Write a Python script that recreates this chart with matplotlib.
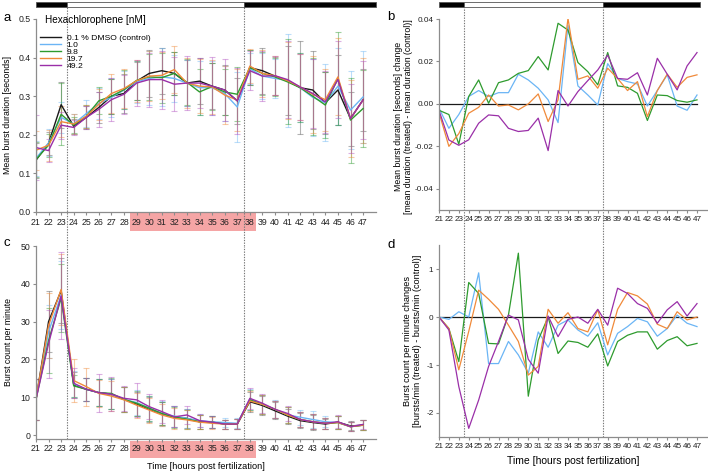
import matplotlib
matplotlib.use("Agg")
import matplotlib.pyplot as plt
import matplotlib.transforms as mtransforms
from matplotlib.patches import Rectangle

plt.rcParams['font.family'] = ['Liberation Sans Narrow', 'Liberation Sans', 'DejaVu Sans']
plt.rcParams['axes.unicode_minus'] = False

# x axis: hours post fertilization
hours = list(range(21, 48))
groups = ['0.1 % DMSO (control)', '1.0', '9.8', '19.7', '49.2']
colors = ['#1a1a1a', '#6bb5f5', '#2e9b2e', '#f08a3a', '#9a2fa8']
err_colors = ['#555555', '#6bb5f5', '#2e9b2e', '#f08a3a', '#b050c0']

# light cycle bar (dark / light / dark) and the dashed transitions
light_edges = [21, 23.5, 37.5, 48]
light_fill = ['black', 'white', 'black']
transitions = [23.5, 37.5]
shaded_hours = (28.5, 38.5)

# panel a: mean burst duration [s]
dur_ctrl = [0.134, 0.178, 0.278, 0.222, 0.245, 0.271, 0.300, 0.307, 0.339, 0.359, 0.366, 0.359, 0.334, 0.339,
            0.326, 0.316, 0.288, 0.374, 0.366, 0.352, 0.340, 0.322, 0.316, 0.283, 0.316, 0.242, 0.291]
dur_1 = [0.139, 0.179, 0.245, 0.228, 0.255, 0.281, 0.297, 0.316, 0.337, 0.346, 0.350, 0.346, 0.334, 0.322,
         0.322, 0.307, 0.272, 0.371, 0.352, 0.346, 0.341, 0.322, 0.297, 0.283, 0.326, 0.264, 0.298]
dur_9_8 = [0.136, 0.173, 0.253, 0.225, 0.248, 0.288, 0.300, 0.317, 0.341, 0.350, 0.348, 0.359, 0.336, 0.311,
           0.325, 0.311, 0.305, 0.374, 0.359, 0.350, 0.337, 0.322, 0.300, 0.277, 0.346, 0.238, 0.268]
dur_19_7 = [0.160, 0.173, 0.234, 0.228, 0.248, 0.279, 0.307, 0.320, 0.340, 0.352, 0.354, 0.369, 0.334, 0.326,
            0.324, 0.303, 0.290, 0.378, 0.359, 0.353, 0.340, 0.324, 0.305, 0.291, 0.350, 0.242, 0.290]
dur_49_2 = [0.167, 0.159, 0.225, 0.219, 0.245, 0.266, 0.291, 0.305, 0.334, 0.343, 0.343, 0.331, 0.334, 0.334,
            0.326, 0.316, 0.288, 0.366, 0.352, 0.353, 0.343, 0.324, 0.307, 0.285, 0.343, 0.242, 0.290]

dur_err_ctrl = [0.045, 0.03, 0.06, 0.02, 0.03, 0.04, 0.045, 0.05, 0.05, 0.06, 0.06, 0.055, 0.06, 0.06,
                0.06, 0.065, 0.06, 0.045, 0.06, 0.05, 0.09, 0.12, 0.10, 0.08, 0.09, 0.07, 0.08]
dur_err_1 = [0.045, 0.035, 0.04, 0.025, 0.035, 0.04, 0.05, 0.05, 0.055, 0.07, 0.075, 0.06, 0.06, 0.07,
             0.07, 0.07, 0.09, 0.04, 0.06, 0.05, 0.12, 0.09, 0.10, 0.10, 0.10, 0.10, 0.12]
dur_err_9_8 = [0.045, 0.03, 0.08, 0.02, 0.03, 0.035, 0.045, 0.05, 0.05, 0.06, 0.065, 0.055, 0.06, 0.06,
               0.06, 0.06, 0.07, 0.045, 0.055, 0.05, 0.11, 0.09, 0.10, 0.085, 0.12, 0.11, 0.10]
dur_err_19_7 = [0.05, 0.04, 0.04, 0.025, 0.03, 0.04, 0.05, 0.05, 0.055, 0.065, 0.06, 0.06, 0.065, 0.07,
                0.07, 0.075, 0.08, 0.045, 0.06, 0.05, 0.10, 0.085, 0.10, 0.08, 0.10, 0.10, 0.11]
dur_err_49_2 = [0.085, 0.03, 0.035, 0.02, 0.03, 0.045, 0.055, 0.05, 0.06, 0.07, 0.075, 0.07, 0.07, 0.065,
                0.075, 0.08, 0.085, 0.05, 0.065, 0.05, 0.10, 0.085, 0.09, 0.08, 0.10, 0.09, 0.10]

# panel c: burst count per minute
cnt_ctrl = [9.4, 30.0, 38.2, 13.2, 12.1, 11.2, 10.8, 9.4, 8.2, 6.8, 5.6, 4.8, 4.4, 3.5,
            3.4, 2.9, 2.9, 8.8, 7.8, 6.4, 5.0, 3.8, 3.3, 2.9, 3.4, 2.4, 2.6]
cnt_1 = [9.4, 27.3, 37.0, 13.5, 12.1, 11.2, 10.8, 9.4, 8.6, 7.1, 5.7, 5.0, 4.4, 3.8,
         3.5, 3.3, 3.1, 9.5, 8.1, 6.8, 5.3, 4.7, 4.1, 3.5, 3.3, 2.2, 2.6]
cnt_9_8 = [9.4, 25.0, 36.2, 13.0, 12.1, 11.2, 11.0, 9.4, 8.4, 7.1, 5.7, 4.7, 4.2, 3.5,
           3.4, 2.9, 2.9, 9.3, 8.1, 6.8, 5.3, 4.1, 3.5, 3.1, 3.3, 2.2, 2.6]
cnt_19_7 = [9.4, 29.0, 38.5, 14.4, 12.8, 11.0, 10.3, 9.3, 7.9, 6.6, 5.3, 4.4, 4.0, 3.4,
            3.1, 2.9, 2.9, 9.0, 8.1, 6.8, 5.3, 4.1, 3.5, 3.1, 3.3, 2.2, 2.6]
cnt_49_2 = [9.4, 24.2, 36.8, 13.7, 12.1, 11.2, 10.8, 9.7, 9.3, 7.5, 6.2, 4.8, 5.3, 3.8,
            3.4, 2.9, 2.9, 9.7, 8.4, 6.8, 5.7, 4.1, 3.5, 3.1, 3.5, 2.2, 2.8]

cnt_err_ctrl = [5.5, 8.0, 8.5, 3.5, 3.0, 3.5, 4.0, 3.3, 3.3, 3.3, 3.0, 2.8, 2.5, 1.8,
                1.6, 1.2, 1.3, 2.7, 2.5, 2.2, 2.0, 2.0, 2.0, 1.4, 1.7, 1.2, 1.3]
cnt_err_1 = [5.5, 7.0, 9.0, 3.5, 3.0, 3.5, 4.0, 3.3, 3.3, 3.3, 3.2, 2.8, 2.5, 1.8,
             1.6, 1.2, 1.3, 2.8, 2.5, 2.4, 2.0, 2.0, 2.2, 1.4, 1.7, 1.2, 1.3]
cnt_err_9_8 = [5.5, 8.5, 9.0, 3.0, 3.0, 3.5, 4.0, 3.3, 3.3, 3.3, 3.0, 2.8, 2.5, 1.8,
               1.6, 1.2, 1.3, 2.7, 2.5, 2.2, 2.0, 2.0, 2.0, 1.4, 1.7, 1.2, 1.3]
cnt_err_19_7 = [5.5, 8.5, 9.5, 5.7, 5.0, 3.5, 4.0, 3.3, 3.3, 3.3, 3.0, 2.8, 2.5, 1.8,
                1.6, 1.2, 1.3, 2.7, 2.5, 2.2, 2.0, 2.0, 2.0, 1.4, 1.7, 1.2, 1.3]
cnt_err_49_2 = [5.5, 9.0, 11.5, 4.0, 3.0, 5.0, 4.5, 3.3, 4.5, 3.3, 3.0, 2.8, 2.5, 1.8,
                1.6, 1.2, 1.3, 2.7, 2.5, 2.2, 2.0, 2.0, 2.0, 1.4, 1.7, 1.2, 1.3]

# panel b: change of mean burst duration vs control
ddur_1 = [-0.002, -0.0115, -0.005, 0.0035, 0.0063, 0.0035, 0.0053, 0.0053, 0.014, 0.0113, 0.0074, 0.0019,
          -0.0088, 0.037, 0.0085, 0.0042, -0.0005, 0.019, 0.012, 0.0105, 0.0094, -0.001, 0.0063, 0.0137,
          -0.001, -0.003, 0.0042]
ddur_9_8 = [-0.003, -0.005, -0.019, 0.0035, 0.0113, 0.0003, 0.010, 0.0113, 0.0144, 0.0157, 0.0223, 0.016,
            0.038, 0.0348, 0.0195, 0.0152, 0.009, 0.0242, 0.0085, 0.0078, 0.005, -0.0078, 0.0042, 0.0039,
            0.0016, 0.0008, 0.0019]
ddur_19_7 = [-0.004, -0.020, -0.014, -0.0044, -0.0016, 0.0042, -0.001, -0.0005, -0.0028, 0.0, 0.0047, -0.0083,
             0.0019, 0.0403, 0.0116, 0.0132, 0.0074, 0.0168, 0.012, 0.0063, 0.0105, -0.006, 0.0063, 0.014,
             0.0078, 0.0125, 0.0137]
ddur_49_2 = [-0.003, -0.017, -0.0195, -0.0169, -0.0091, -0.0052, -0.0056, -0.0115, -0.013, -0.0125, -0.0067,
             -0.022, 0.0063, -0.001, 0.0058, 0.011, 0.016, 0.023, 0.012, 0.0116, 0.0147, 0.0042, 0.0215,
             0.014, 0.0066, 0.0179, 0.0242]

# panel d: change of burst count per minute vs control
dcnt_1 = [0.0, -0.05, 0.11, 0.0, 0.92, -0.97, -0.97, -0.51, -0.79, -1.17, -0.31, -0.63, -0.17, -0.06,
          -0.27, -0.40, -0.12, -0.79, -0.34, -0.20, -0.03, -0.10, -0.40, -0.24, 0.04, -0.13, -0.20]
dcnt_9_8 = [0.0, -0.24, -0.93, 0.72, 0.49, -0.55, -0.56, 0.04, 1.33, -1.65, -0.48, 0.0, -0.76, -0.50,
            -0.53, -0.63, -0.35, -1.02, -0.51, -0.38, -0.31, -0.31, -0.67, -0.49, -0.41, -0.60, -0.55]
dcnt_19_7 = [0.0, -0.24, -1.10, -0.30, 0.56, 0.37, 0.16, -0.17, -0.51, -1.21, -1.03, 0.16, -0.13, 0.09,
             -0.24, -0.31, 0.15, -0.58, 0.16, 0.51, 0.44, 0.27, -0.15, -0.24, 0.11, -0.06, 0.0]
dcnt_49_2 = [0.0, -0.27, -1.45, -2.32, -1.73, -1.03, -0.51, 0.04, -0.06, -0.88, -1.17, 0.02, -0.41, -0.05,
             0.0, -0.13, 0.16, -0.17, 0.60, 0.49, 0.28, 0.18, -0.13, 0.15, 0.32, 0.02, 0.28]

dur_means = [dur_ctrl, dur_1, dur_9_8, dur_19_7, dur_49_2]
dur_errs = [dur_err_ctrl, dur_err_1, dur_err_9_8, dur_err_19_7, dur_err_49_2]
cnt_means = [cnt_ctrl, cnt_1, cnt_9_8, cnt_19_7, cnt_49_2]
cnt_errs = [cnt_err_ctrl, cnt_err_1, cnt_err_9_8, cnt_err_19_7, cnt_err_49_2]
dur_diffs = [ddur_1, ddur_9_8, ddur_19_7, ddur_49_2]
cnt_diffs = [dcnt_1, dcnt_9_8, dcnt_19_7, dcnt_49_2]

AXIS_GREY = '#8c8c8c'


def style_axis(ax, tick_size):
    for side in ['top', 'right']:
        ax.spines[side].set_visible(False)
    for side in ['left', 'bottom']:
        ax.spines[side].set_color(AXIS_GREY)
        ax.spines[side].set_linewidth(0.9)
    ax.tick_params(colors=AXIS_GREY, labelcolor='#222222', length=2.5, width=0.8,
                   labelsize=tick_size, pad=1.5)
    ax.set_xlim(21, 48)
    ax.set_xticks(hours)


def light_bar(ax, y0, y1, x_end):
    trans = mtransforms.blended_transform_factory(ax.transData, ax.transAxes)
    edges = light_edges[:-1] + [x_end]
    for i, fill in enumerate(light_fill):
        ax.add_patch(Rectangle((edges[i], y0), edges[i + 1] - edges[i], y1 - y0, transform=trans,
                               facecolor=fill, edgecolor='#555555', lw=0.6, clip_on=False))


def transition_lines(ax, ymin, ymax):
    for x in transitions:
        ax.axvline(x, ymin=ymin, ymax=ymax, color='#777777', lw=0.8, ls=(0, (1.2, 1.2)),
                   clip_on=False, zorder=0.8)


def shade_labels(ax, y0, y1):
    trans = mtransforms.blended_transform_factory(ax.transData, ax.transAxes)
    ax.add_patch(Rectangle((shaded_hours[0], y0), shaded_hours[1] - shaded_hours[0], y1 - y0,
                           transform=trans, facecolor='#f5a5a5', edgecolor='none',
                           clip_on=False, zorder=0.5))


def mean_panel(ax, means, errs):
    for m, e, c in zip(means, errs, err_colors):
        ax.errorbar(hours, m, yerr=e, fmt='none', ecolor=c, elinewidth=0.8,
                    capsize=1.9, capthick=0.8, alpha=0.45)
    for m, c, g in zip(means, colors, groups):
        ax.plot(hours, m, color=c, lw=1.0, label=g)


def diff_panel(ax, diffs):
    ax.plot([hours[0], hours[-1]], [0, 0], color='#1a1a1a', lw=0.9)
    for d, c in zip(diffs, colors[1:]):
        ax.plot(hours, d, color=c, lw=0.9)


fig = plt.figure(figsize=(7.08, 4.71), dpi=100)

ax_a = fig.add_axes([0.0508, 0.5499, 0.4798, 0.4098])
ax_c = fig.add_axes([0.0508, 0.0684, 0.4798, 0.4093])
ax_b = fig.add_axes([0.6200, 0.5541, 0.3785, 0.4055])
ax_d = fig.add_axes([0.6200, 0.0722, 0.3785, 0.4076])

# panel a
style_axis(ax_a, 6.3)
mean_panel(ax_a, dur_means, dur_errs)
ax_a.set_ylim(0, 0.5)
ax_a.set_yticks([0.0, 0.1, 0.2, 0.3, 0.4, 0.5])
ax_a.set_yticklabels(['%.1f' % v for v in [0.0, 0.1, 0.2, 0.3, 0.4, 0.5]])
ax_a.set_ylabel('Mean burst duration [seconds]', fontsize=6.3)
ax_a.yaxis.set_label_coords(-0.072, 0.5)
light_bar(ax_a, 1.062, 1.088, 48)
transition_lines(ax_a, -0.176, 1.062)
shade_labels(ax_a, -0.098, -0.005)
ax_a.text(0.026, 0.995, 'Hexachlorophene [nM]', transform=ax_a.transAxes,
          fontsize=7.2, ha='left', va='center')
ax_a.legend(loc='upper left', bbox_to_anchor=(0.006, 0.93), borderaxespad=0, frameon=False,
            fontsize=6.1, handlelength=2.5, handletextpad=0.7, labelspacing=-0.12, borderpad=0.2)

# panel c
style_axis(ax_c, 6.3)
mean_panel(ax_c, cnt_means, cnt_errs)
ax_c.set_ylim(-1, 50)
ax_c.set_yticks([0, 10, 20, 30, 40, 50])
ax_c.set_ylabel('Burst count per minute', fontsize=6.3)
ax_c.yaxis.set_label_coords(-0.068, 0.5)
ax_c.set_xlabel('Time [hours post fertilization]', fontsize=6.6)
ax_c.xaxis.set_label_coords(0.5, -0.118)
transition_lines(ax_c, 0, 1)
shade_labels(ax_c, -0.100, -0.011)

# panel b
style_axis(ax_b, 5.9)
diff_panel(ax_b, dur_diffs)
ax_b.set_ylim(-0.05, 0.04)
ax_b.set_yticks([-0.04, -0.02, 0.0, 0.02, 0.04])
ax_b.set_yticklabels(['%.2f' % v for v in [-0.04, -0.02, 0.0, 0.02, 0.04]])
ax_b.set_ylabel('Mean burst duration [seconds] change\n'
                '[mean duration (treated) - mean duration (control)]', fontsize=6.3, linespacing=1.1)
ax_b.yaxis.set_label_coords(-0.097, 0.49)
light_bar(ax_b, 1.063, 1.089, 47.3)
transition_lines(ax_b, -0.183, 1.063)

# panel d
style_axis(ax_d, 5.9)
diff_panel(ax_d, cnt_diffs)
ax_d.set_ylim(-2.5, 1.5)
ax_d.set_yticks([-2, -1, 0, 1])
ax_d.set_ylabel('Burst count per minute changes\n'
                '[bursts/min (treated) - bursts/min (control)]', fontsize=6.6, linespacing=1.1)
ax_d.yaxis.set_label_coords(-0.063, 0.5)
ax_d.set_xlabel('Time [hours post fertilization]', fontsize=7.5)
ax_d.xaxis.set_label_coords(0.5, -0.100)
transition_lines(ax_d, 0, 1)

# panel letters
for letter, xp, yp in [('a', 4, 18), ('b', 387, 17), ('c', 4, 243), ('d', 387, 245)]:
    fig.text(xp / 708, 1 - yp / 471, letter, fontsize=9.5, ha='left', va='center')

fig.savefig('out.png', dpi=100)
